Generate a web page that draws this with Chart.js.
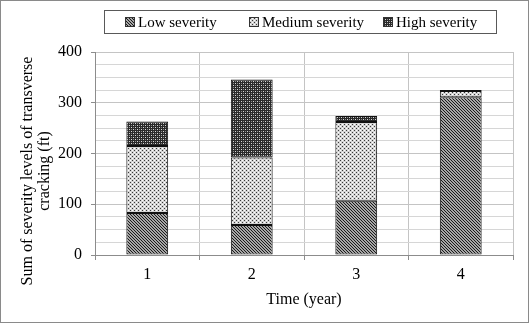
<!DOCTYPE html>
<html>
<head>
<meta charset="utf-8">
<script src="https://cdn.jsdelivr.net/npm/chart.js@4.4.1/dist/chart.umd.min.js"></script>
<style>
    html, body { margin: 0; padding: 0; background: #fff; }
    #wrap { position: relative; width: 529px; height: 323px; }
    #frame { position: absolute; left: 0; top: 0; width: 527px; height: 321px; border: 1px solid #8a8a8a; pointer-events: none; }
    #legend { position: absolute; left: 104px; top: 10px; width: 391px; height: 22px; border: 1px solid #595959;
              white-space: nowrap; font: 15px "Liberation Serif", "Times New Roman", serif; color: #000; }
    #legend span.item { position: absolute; top: 0; height: 22px; display: flex; align-items: center; }
    #legend canvas { width: 8px; height: 8px; border: 1px solid #333; margin-right: 3px; }
</style>
</head>
<body>
<div id="wrap">
    <canvas id="chart" width="529" height="323"></canvas>
    <div id="legend"></div>
    <div id="frame"></div>
</div>
<script>
const years = ["1", "2", "3", "4"];
const lowSeverity = [83, 59, 107, 311];
const mediumSeverity = [132, 133, 155, 12];
const highSeverity = [48, 154, 12, 2];
const seriesNames = ["Low severity", "Medium severity", "High severity"];

// kleine Musterkacheln wie in Excel
function makeTile(kind) {
    const c = document.createElement("canvas");
    const n = kind === "low" ? 3 : 4;
    c.width = n; c.height = n;
    const g = c.getContext("2d");
    if (kind === "low") {
        g.fillStyle = "#a6a6a6"; g.fillRect(0, 0, n, n);
        g.fillStyle = "#1a1a1a";
        for (let i = 0; i < n; i++) g.fillRect(i, i, 1, 1);
    } else if (kind === "medium") {
        g.fillStyle = "#d4d4d4"; g.fillRect(0, 0, n, n);
        g.fillStyle = "#3a3a3a"; g.fillRect(0, 0, 1, 1); g.fillRect(2, 2, 1, 1);
        g.fillStyle = "#ffffff"; g.fillRect(2, 0, 1, 1); g.fillRect(0, 2, 1, 1);
    } else {
        g.fillStyle = "#2a2a2a"; g.fillRect(0, 0, n, n);
        g.fillStyle = "#d8d8d8"; g.fillRect(1, 1, 1, 1); g.fillRect(3, 3, 1, 1);
        g.fillStyle = "#8a8a8a"; g.fillRect(3, 1, 1, 1); g.fillRect(1, 3, 1, 1);
    }
    return c;
}

const ctx = document.getElementById("chart").getContext("2d");
const tiles = [makeTile("low"), makeTile("medium"), makeTile("high")];
const patterns = tiles.map(t => ctx.createPattern(t, "repeat"));

// Legende als HTML, Einträge an festen Stellen
const legend = document.getElementById("legend");
const legendLeft = [20, 144, 278];
seriesNames.forEach(function (name, i) {
    const item = document.createElement("span");
    item.className = "item";
    item.style.left = legendLeft[i] + "px";
    const sw = document.createElement("canvas");
    sw.width = 8; sw.height = 8;
    const sg = sw.getContext("2d");
    sg.fillStyle = sg.createPattern(tiles[i], "repeat");
    sg.fillRect(0, 0, 8, 8);
    item.appendChild(sw);
    item.appendChild(document.createTextNode(name));
    legend.appendChild(item);
});

// Y-Achsentitel selbst zeichnen (etwas unter der Mitte)
const yTitlePlugin = {
    id: "yTitle",
    afterDraw(chart) {
        const c = chart.ctx;
        c.save();
        c.translate(0, 171);
        c.rotate(-Math.PI / 2);
        c.fillStyle = "#000";
        c.font = '16px "Liberation Serif", serif';
        c.textAlign = "center";
        c.textBaseline = "middle";
        c.fillText("Sum of severity levels of transverse", 0, 28);
        c.fillText("cracking (ft)", 0, 45);
        c.restore();
    }
};

const ds = [lowSeverity, mediumSeverity, highSeverity].map(function (vals, i) {
    return {
        label: seriesNames[i],
        data: vals,
        backgroundColor: patterns[i],
        borderColor: "#111",
        borderWidth: 1,
        borderSkipped: false,
        barPercentage: 0.4,
        categoryPercentage: 1.0
    };
});

new Chart(ctx, {
    type: "bar",
    data: { labels: years, datasets: ds },
    options: {
        responsive: false,
        animation: false,
        layout: { padding: { left: 0, right: 16, top: 52, bottom: 0 } },
        plugins: { legend: { display: false }, tooltip: { enabled: false } },
        scales: {
            x: {
                stacked: true,
                afterFit: function (s) { s.height = 68; },
                border: { color: "#8c8c8c" },
                grid: { color: "#c4c4c4", tickLength: 5, tickColor: "#8c8c8c" },
                ticks: { color: "#000", padding: 5, font: { family: "Liberation Serif", size: 16 } },
                title: { display: true, text: "Time (year)", color: "#000", padding: { top: 0, bottom: 14 },
                         font: { family: "Liberation Serif", size: 16 } }
            },
            y: {
                stacked: true,
                min: 0,
                max: 400,
                afterFit: function (s) { s.width = 95; },
                border: { color: "#8c8c8c" },
                grid: {
                    color: function (c) { return c.tick && c.tick.value % 100 === 0 ? "#c4c4c4" : "#d6d6d6"; },
                    tickLength: 4,
                    tickColor: function (c) { return c.tick && c.tick.value % 100 === 0 ? "#8c8c8c" : "rgba(0,0,0,0)"; }
                },
                ticks: {
                    stepSize: 25,
                    autoSkip: false,
                    padding: 9,
                    color: "#000",
                    font: { family: "Liberation Serif", size: 16 },
                    callback: function (v) { return v % 100 === 0 ? v : ""; }
                }
            }
        }
    },
    plugins: [yTitlePlugin]
});
</script>
</body>
</html>
